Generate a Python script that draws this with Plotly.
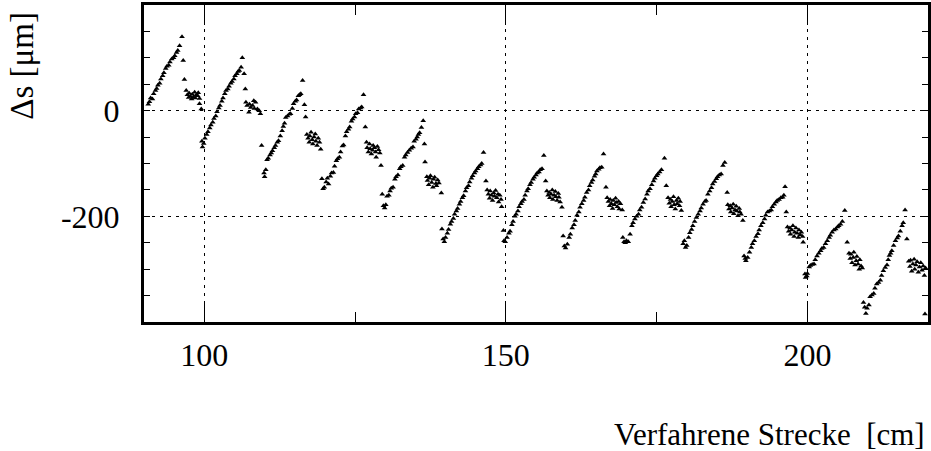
import plotly.graph_objects as go

# ---- data ----
x1 = [90.7, 90.9, 91.1, 91.4, 91.6, 91.9, 92.1, 92.3, 92.6, 92.8, 93.1, 93.3, 93.6, 93.8, 94.1, 94.3, 94.6, 94.9, 95.1, 95.4,
      95.6, 95.9, 96.3, 96.5, 96.7, 97.0, 97.2, 97.4, 97.5, 97.7, 97.9, 98.0, 98.2, 98.4, 98.5, 98.7, 98.9, 99.0, 99.2, 99.2, 99.5]
y1 = [12, 17, 24, 22, 32, 38, 42, 48, 52, 60, 66, 72, 80, 84, 86, 92, 98, 100, 104, 110,
      114, 123, 140, 95, 59, 38, 30, 25, 33, 27, 22, 31, 26, 35, 24, 30, 28, 34, 23, 13, 3]

x2 = [99.6, 99.7, 99.9, 100.1, 100.4, 100.6, 100.9, 101.1, 101.4, 101.6, 101.9, 102.1, 102.4, 102.6, 102.9, 103.1, 103.4, 103.6, 103.9, 104.1,
      104.4, 104.6, 104.9, 105.1, 105.4, 105.6, 105.8, 106.1, 106.3, 106.6, 106.8, 106.9, 107.1, 107.4, 107.5, 107.7, 108.0, 108.2, 108.3, 108.5,
      108.8, 109.1, 109.3, 109.5]
y2 = [-58, -69, -62, -52, -45, -40, -33, -27, -22, -15, -10, -2, 5, 10, 18, 24, 32, 38, 41, 46,
      52, 55, 60, 66, 70, 74, 76, 82, 100, 70, 41, 16, 10, -3, 12, 6, 10, 19, 4, 16,
      3, 0, -6, -66]

x3 = [109.9, 110.0, 110.2, 110.4, 110.6, 110.9, 111.1, 111.3, 111.6, 111.8, 112.1, 112.3, 112.6, 112.9, 113.1, 113.3, 113.5, 113.8, 114.1, 114.3,
      114.6, 114.8, 115.1, 115.3, 115.6, 115.8, 116.0, 116.3, 116.6, 116.8, 117.0, 117.2, 117.4, 117.5, 117.7, 117.9, 118.0, 118.2, 118.4, 118.5,
      118.7, 118.9, 119.1, 119.3]
y3 = [-118, -125, -112, -93, -90, -84, -80, -76, -70, -66, -60, -57, -48, -38, -30, -24, -13, -10, -7, -6,
      4, 13, 18, 20, 28, 30, 32, 57, 11, -12, -45, -52, -60, -48, -41, -55, -63, -50, -44, -58,
      -66, -52, -60, -73]

x4 = [119.5, 119.7, 119.9, 120.2, 120.4, 120.6, 120.9, 121.1, 121.4, 121.6, 121.9, 122.1, 122.4, 122.6, 122.9, 123.1, 123.4, 123.6, 123.9, 124.1,
      124.4, 124.6, 124.9, 125.1, 125.4, 125.6, 125.9, 126.1, 126.4, 126.7, 126.9, 127.0, 127.2, 127.4, 127.5, 127.7, 127.9, 128.0, 128.2, 128.4,
      128.5, 128.7, 128.9, 129.1, 129.3]
y4 = [-129, -148, -145, -135, -128, -139, -124, -118, -117, -105, -95, -91, -88, -78, -67, -65, -48, -40, -35, -31,
      -20, -16, -12, -6, -4, 3, 5, 7, 30, -31, -60, -70, -78, -63, -72, -82, -75, -66, -70, -78,
      -88, -68, -74, -80, -104]

x5 = [129.5, 129.7, 129.9, 130.1, 130.3, 130.6, 130.8, 131.0, 131.3, 131.6, 131.8, 132.1, 132.4, 132.6, 132.9, 133.2, 133.4, 133.7, 134.0, 134.3,
      134.6, 134.8, 135.1, 135.3, 135.5, 135.7, 136.0, 136.3, 136.5, 136.6, 136.9, 137.0, 137.2, 137.4, 137.5, 137.7, 137.9, 138.0, 138.2, 138.4,
      138.5, 138.7, 138.9, 139.3]
y5 = [-158, -180, -184, -178, -162, -160, -152, -147, -145, -130, -125, -122, -110, -106, -104, -88, -84, -79, -75, -71,
      -69, -58, -54, -50, -45, -42, -32, -19, -63, -97, -125, -132, -140, -128, -123, -136, -145, -130, -126, -138,
      -142, -131, -137, -156]

x6 = [139.4, 139.6, 139.8, 140.0, 140.3, 140.5, 140.8, 141.0, 141.3, 141.5, 141.8, 142.0, 142.3, 142.5, 142.8, 143.0, 143.3, 143.5, 143.8, 144.0,
      144.3, 144.5, 144.8, 145.0, 145.3, 145.5, 145.8, 146.0, 146.3, 146.7, 146.9, 147.1, 147.3, 147.4, 147.6, 147.8, 148.0, 148.1, 148.3, 148.5,
      148.7, 148.8, 149.0, 149.2, 149.3]
y6 = [-224, -243, -248, -240, -232, -225, -215, -210, -204, -196, -190, -185, -177, -172, -165, -161, -152, -146, -142, -135,
      -128, -123, -118, -114, -110, -106, -103, -100, -79, -133, -150, -158, -166, -152, -160, -170, -156, -162, -151, -165,
      -158, -173, -160, -168, -182]

x7 = [149.6, 149.7, 149.9, 150.2, 150.5, 150.7, 151.0, 151.2, 151.5, 151.7, 152.0, 152.2, 152.5, 152.7, 153.0, 153.2, 153.5, 153.7, 154.0, 154.2,
      154.5, 154.7, 155.0, 155.2, 155.5, 155.7, 156.0, 156.3, 156.6, 156.8, 157.0, 157.2, 157.3, 157.5, 157.7, 157.8, 158.0, 158.2, 158.3, 158.5,
      158.7, 158.8, 159.0, 159.3]
y7 = [-227, -246, -248, -240, -232, -228, -216, -210, -200, -196, -190, -182, -176, -172, -168, -160, -152, -148, -140, -136,
      -130, -126, -122, -118, -116, -112, -110, -85, -133, -152, -160, -155, -165, -158, -150, -168, -160, -153, -163, -170,
      -157, -164, -173, -183]

x8 = [159.5, 159.7, 159.9, 160.2, 160.5, 160.7, 161.0, 161.3, 161.5, 161.8, 162.1, 162.3, 162.6, 162.9, 163.1, 163.4, 163.7, 163.9, 164.2, 164.4,
      164.7, 164.9, 165.1, 165.4, 165.6, 165.9, 166.2, 166.6, 166.8, 167.0, 167.2, 167.3, 167.5, 167.7, 167.8, 168.0, 168.2, 168.3, 168.5, 168.7,
      168.8, 169.0, 169.3]
y8 = [-237, -256, -260, -253, -240, -234, -222, -216, -208, -198, -192, -183, -176, -170, -164, -155, -150, -142, -136, -131,
      -124, -120, -114, -111, -108, -107, -82, -145, -165, -172, -180, -168, -176, -185, -170, -178, -166, -174, -182, -172,
      -186, -176, -188]

x9 = [169.4, 169.6, 169.8, 170.0, 170.3, 170.6, 170.9, 171.1, 171.4, 171.7, 172.0, 172.2, 172.5, 172.8, 173.1, 173.4, 173.6, 173.9, 174.2, 174.5,
      174.7, 175.0, 175.2, 175.5, 175.8, 176.3, 176.6, 176.9, 177.1, 177.3, 177.4, 177.6, 177.8, 177.9, 178.1, 178.3, 178.4, 178.6, 178.8, 178.9,
      179.1]
y9 = [-240, -248, -250, -246, -248, -234, -218, -212, -205, -200, -196, -188, -183, -174, -167, -158, -152, -148, -140, -133,
      -128, -123, -120, -116, -112, -90, -142, -165, -175, -168, -182, -172, -163, -178, -186, -170, -176, -166, -180, -172,
      -189]

x10 = [179.4, 179.6, 179.8, 180.0, 180.3, 180.5, 180.8, 181.0, 181.3, 181.6, 181.9, 182.2, 182.4, 182.7, 183.0, 183.2, 183.5, 183.8, 184.1, 184.3,
       184.6, 184.9, 185.1, 185.4, 185.7, 186.0, 186.3, 186.7, 186.8, 187.0, 187.2, 187.3, 187.5, 187.7, 187.8, 188.0, 188.2, 188.3, 188.5, 188.7,
       188.8, 189.0, 189.3]
y10 = [-252, -246, -259, -255, -240, -231, -225, -218, -210, -202, -196, -190, -184, -177, -172, -170, -158, -152, -146, -139,
       -134, -129, -125, -122, -120, -104, -98, -155, -178, -186, -180, -192, -184, -177, -195, -188, -181, -190, -199, -185,
       -192, -196, -208]

x11 = [189.5, 189.7, 189.8, 190.1, 190.4, 190.7, 190.9, 191.2, 191.5, 191.8, 192.0, 192.3, 192.6, 192.9, 193.1, 193.4, 193.7, 194.0, 194.2, 194.5,
       194.8, 195.0, 195.3, 195.6, 195.9, 196.1, 196.3, 196.5, 196.7, 196.9, 197.1, 197.2, 197.4, 197.6, 197.8, 197.9, 198.1, 198.3, 198.5, 198.6,
       198.8, 199.0, 199.2, 199.3]
y11 = [-275, -280, -284, -278, -268, -259, -252, -246, -238, -233, -226, -218, -212, -205, -198, -192, -190, -188, -182, -177,
       -173, -170, -168, -165, -164, -160, -144, -192, -220, -228, -222, -234, -226, -218, -238, -230, -222, -232, -240, -226,
       -235, -230, -238, -249]

x12 = [199.6, 199.7, 199.9, 200.0, 200.3, 200.5, 200.8, 201.1, 201.3, 201.6, 201.9, 202.2, 202.4, 202.7, 203.0, 203.3, 203.6, 203.8, 204.1, 204.4,
       204.7, 205.0, 205.2, 205.5, 205.8, 206.2, 206.6, 206.9, 207.1, 207.2, 207.4, 207.6, 207.7, 207.9, 208.1, 208.2, 208.4, 208.6, 208.7, 208.9,
       209.1]
y12 = [-309, -316, -313, -308, -296, -293, -291, -290, -282, -275, -270, -265, -261, -259, -252, -246, -240, -236, -230, -226,
       -224, -220, -218, -215, -210, -189, -249, -270, -280, -272, -288, -278, -268, -292, -284, -276, -290, -300, -282, -294,
       -298]

x13 = [209.3, 209.5, 209.7, 209.9, 210.2, 210.4, 210.7, 211.0, 211.2, 211.5, 211.8, 212.1, 212.3, 212.6, 212.9, 213.2, 213.4, 213.6, 213.8, 214.0,
       214.3, 214.6, 214.9, 215.1, 215.4, 215.7, 215.9, 216.2, 216.5, 216.8, 217.0, 217.1, 217.3, 217.5, 217.7, 217.8, 218.0, 218.2, 218.4, 218.6,
       218.8, 219.0, 219.2, 219.4, 219.6, 219.5]
y13 = [-363, -372, -384, -374, -368, -352, -349, -346, -336, -328, -325, -321, -312, -303, -297, -292, -282, -274, -270, -265,
       -255, -246, -241, -237, -228, -218, -212, -188, -243, -285, -295, -283, -304, -290, -281, -300, -292, -286, -306, -296,
       -288, -302, -294, -312, -298, -385]

x_tickvals = [100, 150, 200]
x_ticktext = ["100", "150", "200"]
x_minor_ticks = [125, 175]
y_tickvals = [-200, 0]
y_ticktext = ["-200", "0"]

x_all = x1 + x2 + x3 + x4 + x5 + x6 + x7 + x8 + x9 + x10 + x11 + x12 + x13
y_all = y1 + y2 + y3 + y4 + y5 + y6 + y7 + y8 + y9 + y10 + y11 + y12 + y13

FONT = "Liberation Serif"

fig = go.Figure()
fig.add_trace(go.Scatter(
    x=x_all, y=y_all, mode="markers",
    marker=dict(symbol="triangle-up", size=5, color="black", line=dict(width=0)),
    hoverinfo="skip",
))

axis_common = dict(
    showline=True, linewidth=3, linecolor="black", mirror="allticks",
    ticks="inside", tickcolor="black", tickwidth=1,
    showgrid=True, gridcolor="black", gridwidth=1, griddash="3px,5px",
    zeroline=False,
    tickfont=dict(family=FONT, size=32, color="black"),
)

fig.update_xaxes(
    range=[90, 220], tickmode="array", tickvals=x_tickvals, ticktext=x_ticktext,
    ticklen=20, ticklabelstandoff=3,
    minor=dict(tickmode="array", tickvals=x_minor_ticks, ticks="inside", ticklen=10,
               tickwidth=1, tickcolor="black", showgrid=False),
    **axis_common,
)
fig.update_yaxes(
    range=[-400, 200], tickmode="array", tickvals=y_tickvals, ticktext=y_ticktext,
    ticklen=6, ticklabelstandoff=15,
    minor=dict(dtick=50, tick0=0, ticks="inside", ticklen=6, tickwidth=1,
               tickcolor="black", showgrid=False),
    **axis_common,
)

fig.add_annotation(text="Δs [μm]", xref="paper", yref="paper", x=-0.155, y=0.81,
                   xanchor="center", yanchor="middle", textangle=-90, showarrow=False,
                   font=dict(family=FONT, size=33, color="black"))
fig.add_annotation(text="Verfahrene Strecke\u00a0 [cm]", xref="paper", yref="paper", x=0.9987, y=-0.355,
                   xanchor="right", yanchor="middle", showarrow=False,
                   font=dict(family=FONT, size=31, color="black"))

fig.update_layout(
    width=931, height=451,
    margin=dict(l=144, r=0, t=5, b=129),
    font=dict(family=FONT, color="black"),
    plot_bgcolor="white", paper_bgcolor="white",
    showlegend=False,
)

fig.write_html("out.html")
